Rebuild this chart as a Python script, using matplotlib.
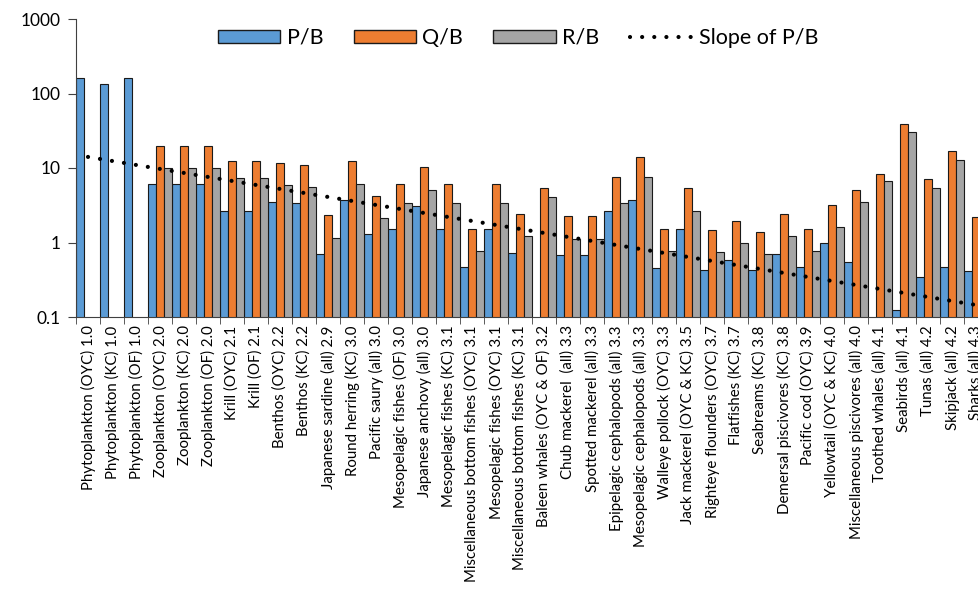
import numpy as np
import matplotlib.pyplot as plt
from matplotlib.patches import Patch
from matplotlib.lines import Line2D
from matplotlib.ticker import FixedLocator, FuncFormatter

plt.rcParams['font.family'] = ['Lato', 'DejaVu Sans']

categories = [
    "Phytoplankton (OYC) 1.0", "Phytoplankton (KC) 1.0", "Phytoplankton (OF) 1.0",
    "Zooplankton (OYC) 2.0", "Zooplankton (KC) 2.0", "Zooplankton (OF) 2.0",
    "Krill (OYC) 2.1", "Krill (OF) 2.1", "Benthos (OYC) 2.2", "Benthos (KC) 2.2",
    "Japanese sardine (all) 2.9", "Round herring (KC) 3.0", "Pacific saury (all) 3.0",
    "Mesopelagic fishes (OF) 3.0", "Japanese anchovy (all) 3.0",
    "Mesopelagic fishes (KC) 3.1", "Miscellaneous bottom fishes (OYC) 3.1",
    "Mesopelagic fishes (OYC) 3.1", "Miscellaneous bottom fishes (KC) 3.1",
    "Baleen whales (OYC & OF) 3.2", "Chub mackerel  (all) 3.3",
    "Spotted mackerel (all) 3.3", "Epipelagic cephalopods (all) 3.3",
    "Mesopelagic cephalopods (all) 3.3", "Walleye pollock (OYC) 3.3",
    "Jack mackerel (OYC & KC) 3.5", "Righteye flounders (OYC) 3.7",
    "Flatfishes (KC) 3.7", "Seabreams (KC) 3.8", "Demersal piscivores (KC) 3.8",
    "Pacific cod (OYC) 3.9", "Yellowtail (OYC & KC) 4.0",
    "Miscellaneous piscivores (all) 4.0", "Toothed whales (all) 4.1",
    "Seabirds (all) 4.1", "Tunas (all) 4.2", "Skipjack (all) 4.2", "Sharks (all) 4.3",
]

p_b = [160, 134, 160, 6.1, 6.1, 6.1, 2.67, 2.67, 3.53, 3.36,
       0.71, 3.69, 1.3, 1.53, 3.09, 1.53, 0.47, 1.53, 0.72, 0.04,
       0.67, 0.67, 2.67, 3.69, 0.45, 1.53, 0.43, 0.58, 0.43, 0.71,
       0.47, 0.97, 0.54, 0.05, 0.124, 0.34, 0.47, 0.41]
q_b = [np.nan, np.nan, np.nan, 19.9, 19.9, 19.9, 12.3, 12.3, 11.6, 11.1,
       2.34, 12.3, 4.25, 6.1, 10.2, 6.1, 1.53, 6.1, 2.44, 5.34,
       2.25, 2.25, 7.64, 14.1, 1.53, 5.34, 1.47, 1.94, 1.4, 2.44,
       1.53, 3.22, 5.07, 8.39, 38.6, 7.05, 17.1, 2.22]
r_b = [np.nan, np.nan, np.nan, 10.1, 10.1, 10.1, 7.4, 7.4, 5.86, 5.6,
       1.16, 6.1, 2.13, 3.39, 5.1, 3.39, 0.78, 3.39, 1.23, 4.08,
       1.11, 1.11, 3.39, 7.64, 0.78, 2.67, 0.74, 0.97, 0.71, 1.22,
       0.78, 1.63, 3.53, 6.69, 30.7, 5.34, 12.9, 1.1]

blue = '#5B9BD5'
orange = '#ED7D31'
gray = '#A5A5A5'
edge = '#1a1a1a'

x = np.arange(len(categories))
w = 1 / 3

fig = plt.figure(figsize=(9.79, 6.01), dpi=100)
ax = fig.add_axes([76 / 979, (601 - 317) / 601, 912 / 979, 298 / 601])
ax.set_yscale('log')

ax.bar(x - w, p_b, width=w, color=blue, edgecolor=edge, linewidth=0.8)
ax.bar(x, q_b, width=w, color=orange, edgecolor=edge, linewidth=0.8)
ax.bar(x + w, r_b, width=w, color=gray, edgecolor=edge, linewidth=0.8)

# exponential trendline of P/B (like Excel)
coef = np.polyfit(x, np.log(p_b), 1)
trend = np.exp(np.polyval(coef, x))
dots = (0, (0.01, 2.9))
ax.plot(x, trend, color='black', linewidth=3, linestyle=dots,
        dash_capstyle='round', zorder=5)

ax.set_xlim(-0.5, len(categories) - 0.5)
ax.set_ylim(0.1, 1000)
ax.yaxis.set_major_locator(FixedLocator([0.1, 1, 10, 100, 1000]))
ax.yaxis.set_minor_locator(FixedLocator([]))
ax.yaxis.set_major_formatter(FuncFormatter(lambda v, p: f"{v:g}"))

ax.set_xticks(x)
ax.set_xticklabels(categories, rotation=90, fontsize=10.8)
ax.set_xticks(np.arange(len(categories) + 1) - 0.5, minor=True)
ax.tick_params(axis='x', which='major', length=0, pad=6)
ax.tick_params(axis='x', which='minor', length=5, color='#404040')
ax.tick_params(axis='y', labelsize=12.5, length=6, pad=5, color='#404040')

for s in ['top', 'right']:
    ax.spines[s].set_visible(False)
for s in ['left', 'bottom']:
    ax.spines[s].set_color('#404040')

handles = [
    Patch(facecolor=blue, edgecolor=edge, label='P/B'),
    Patch(facecolor=orange, edgecolor=edge, label='Q/B'),
    Patch(facecolor=gray, edgecolor=edge, label='R/B'),
    Line2D([0], [0], color='black', linewidth=3, linestyle=dots,
           dash_capstyle='round', label='Slope of P/B'),
]
fig.legend(handles=handles, loc='center', bbox_to_anchor=(518 / 979, 1 - 38 / 601),
           ncol=4, frameon=False, fontsize=15.5, handlelength=2.9, handleheight=0.55,
           columnspacing=1.4, handletextpad=0.3)

fig.savefig('out.png', dpi=100)
